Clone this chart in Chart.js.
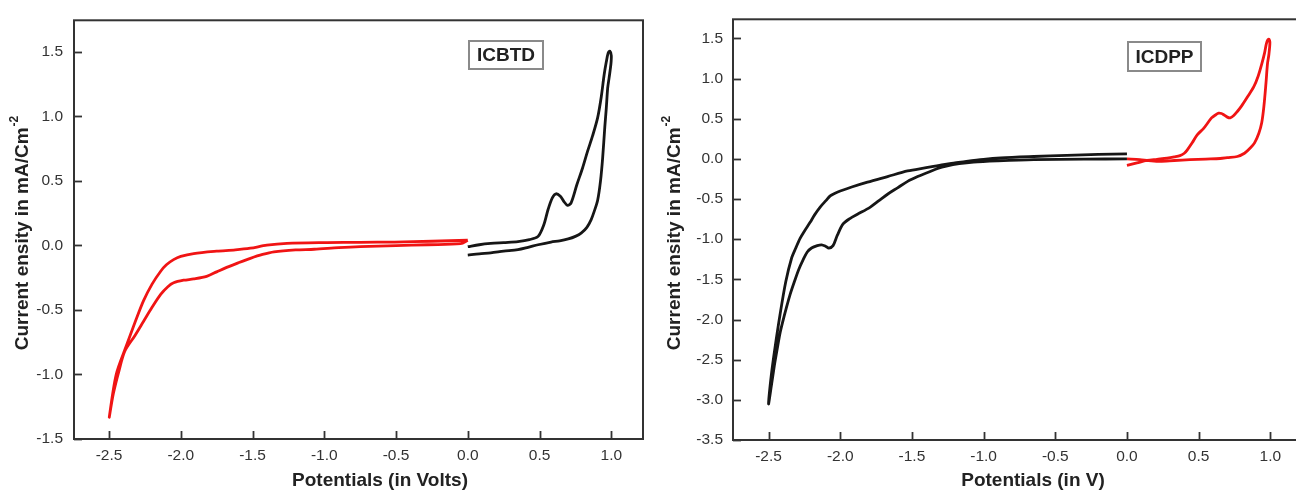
<!DOCTYPE html>
<html><head><meta charset="utf-8">
<script src="https://cdn.jsdelivr.net/npm/chart.js@4.4.0/dist/chart.umd.min.js"></script>
<style>
html,body{margin:0;padding:0;background:#fff;overflow:hidden;width:1296px;height:492px;}
#c1{position:absolute;left:0;top:0;}
#c2{position:absolute;left:648px;top:0;}
</style></head><body>
<canvas id="c1" width="648" height="492"></canvas>
<canvas id="c2" width="660" height="492"></canvas>
<script>
// ---- tick labels ----
const xTickValues = [-2.5, -2.0, -1.5, -1.0, -0.5, 0.0, 0.5, 1.0];
const yTicksICBTD = [-1.5, -1.0, -0.5, 0.0, 0.5, 1.0, 1.5];
const yTicksICDPP = [-3.5, -3.0, -2.5, -2.0, -1.5, -1.0, -0.5, 0.0, 0.5, 1.0, 1.5];

// ---- ICBTD (left panel) ----
const icbtdRedV = [0.0, -0.25, -0.51, -0.75, -0.98, -1.26, -1.40, -1.515, -1.62, -1.75, -1.91, -2.0, -2.05, -2.10, -2.14, -2.2, -2.26, -2.32, -2.38, -2.45, -2.498,
  -2.47, -2.43, -2.39, -2.32, -2.26, -2.2, -2.14, -2.09, -2.05, -1.98, -1.91, -1.82, -1.75, -1.68, -1.6, -1.515, -1.43, -1.35, -1.2, -1.07, -0.9, -0.75, -0.5, -0.28, -0.05, 0.0];
const icbtdRedI = [0.04, 0.032, 0.026, 0.024, 0.022, 0.016, 0.002, -0.022, -0.035, -0.045, -0.063, -0.085, -0.11, -0.15, -0.2, -0.3, -0.43, -0.6, -0.78, -1.0, -1.33,
  -1.15, -0.97, -0.82, -0.70, -0.59, -0.48, -0.38, -0.32, -0.29, -0.27, -0.26, -0.24, -0.205, -0.17, -0.135, -0.10, -0.07, -0.05, -0.035, -0.03, -0.018, -0.01, -0.002, 0.005, 0.013, 0.04];

const icbtdBlackV = [0.0, 0.08, 0.16, 0.25, 0.35, 0.43, 0.49, 0.53, 0.56, 0.59, 0.615, 0.645, 0.67, 0.695, 0.72, 0.76, 0.8, 0.835, 0.87, 0.905, 0.93, 0.95, 0.965, 0.978, 0.99, 1.0,
  0.997, 0.985, 0.975, 0.965, 0.955, 0.94, 0.925, 0.905, 0.88, 0.86, 0.83, 0.79, 0.75, 0.70, 0.64, 0.58, 0.49, 0.42, 0.35, 0.25, 0.16, 0.08, 0.0];
const icbtdBlackI = [-0.01, 0.005, 0.015, 0.022, 0.03, 0.045, 0.07, 0.16, 0.28, 0.37, 0.40, 0.38, 0.34, 0.31, 0.33, 0.47, 0.6, 0.73, 0.85, 0.99, 1.15, 1.32, 1.42, 1.49, 1.505, 1.47,
  1.40, 1.30, 1.22, 1.06, 0.92, 0.68, 0.50, 0.35, 0.26, 0.20, 0.14, 0.095, 0.07, 0.05, 0.035, 0.026, 0.005, -0.015, -0.033, -0.045, -0.058, -0.065, -0.075];

// ---- ICDPP (right panel) ----
const icdppBlackV = [0.0, -0.2, -0.42, -0.65, -0.88, -1.0, -1.12, -1.2, -1.28, -1.4, -1.53, -1.67, -1.81, -1.92, -2.0, -2.04, -2.07, -2.1, -2.14, -2.18, -2.21, -2.25, -2.28, -2.31, -2.34, -2.38, -2.42, -2.455, -2.48, -2.50,
  -2.48, -2.46, -2.44, -2.42, -2.40, -2.375, -2.35, -2.32, -2.29, -2.26, -2.23, -2.2, -2.16, -2.13, -2.1, -2.08, -2.05, -2.02, -1.98, -1.93, -1.88, -1.79, -1.73, -1.67, -1.6, -1.53, -1.46, -1.39, -1.32, -1.26, -1.17, -1.07, -0.9, -0.65, -0.3, 0.0];
const icdppBlackI = [0.062, 0.055, 0.045, 0.03, 0.012, -0.005, -0.03, -0.05, -0.07, -0.11, -0.15, -0.22, -0.29, -0.35, -0.40, -0.43, -0.46, -0.52, -0.60, -0.70, -0.79, -0.90, -0.99, -1.11, -1.24, -1.53, -1.94, -2.35, -2.68, -3.05,
  -2.82, -2.58, -2.37, -2.17, -2.02, -1.85, -1.69, -1.53, -1.38, -1.26, -1.16, -1.11, -1.08, -1.07, -1.09, -1.11, -1.08, -0.95, -0.81, -0.74, -0.69, -0.60, -0.52, -0.44, -0.36, -0.28, -0.22, -0.17, -0.12, -0.09, -0.06, -0.04, -0.025, -0.01, -0.003, 0.0];

const icdppRedV = [0.0, 0.07, 0.14, 0.21, 0.28, 0.33, 0.37, 0.40, 0.42, 0.455, 0.49, 0.535, 0.59, 0.62, 0.64, 0.66, 0.675, 0.70, 0.72, 0.745, 0.77, 0.80, 0.84, 0.885, 0.915, 0.94, 0.96, 0.975, 0.99, 0.997,
  0.99, 0.98, 0.97, 0.955, 0.94, 0.92, 0.89, 0.86, 0.82, 0.77, 0.70, 0.65, 0.55, 0.44, 0.33, 0.23, 0.15, 0.09, 0.0];
const icdppRedI = [-0.08, -0.05, -0.02, -0.005, 0.01, 0.025, 0.04, 0.07, 0.11, 0.20, 0.30, 0.38, 0.51, 0.55, 0.57, 0.565, 0.55, 0.52, 0.51, 0.54, 0.59, 0.66, 0.77, 0.90, 1.03, 1.18, 1.32, 1.45, 1.49, 1.45,
  1.30, 1.18, 0.95, 0.65, 0.45, 0.32, 0.2, 0.135, 0.07, 0.03, 0.015, 0.005, -0.002, -0.01, -0.02, -0.03, -0.02, -0.01, 0.0];

const FONT = '"Liberation Sans", Arial, sans-serif';
const pts = (vs, is) => vs.map((v, k) => ({x: v, y: is[k]}));

const framePlugin = {
  id: 'frame',
  afterDraw(chart, args, o) {
    const {ctx, chartArea: a, scales: {x, y}} = chart;
    ctx.save();
    ctx.strokeStyle = '#333';
    ctx.lineWidth = 2;
    ctx.strokeRect(a.left, a.top, a.right - a.left, a.bottom - a.top);
    ctx.lineWidth = 1.8;
    x.ticks.forEach(t => {
      const px = Math.round(x.getPixelForValue(t.value)) + 0.5;
      ctx.beginPath(); ctx.moveTo(px, a.bottom); ctx.lineTo(px, a.bottom - 8); ctx.stroke();
    });
    y.ticks.forEach(t => {
      const py = Math.round(y.getPixelForValue(t.value)) + 0.5;
      ctx.beginPath(); ctx.moveTo(a.left, py); ctx.lineTo(a.left + 8, py); ctx.stroke();
    });
    // x title
    ctx.fillStyle = '#222';
    ctx.font = 'bold 19px ' + FONT;
    ctx.textAlign = 'center';
    ctx.textBaseline = 'middle';
    ctx.fillText(o.xTitle, o.xTitleX, o.xTitleY);
    // y title with superscript
    ctx.save();
    ctx.translate(o.yTitleX, o.yTitleY);
    ctx.rotate(-Math.PI / 2);
    ctx.textAlign = 'left';
    ctx.textBaseline = 'alphabetic';
    ctx.font = 'bold 19px ' + FONT;
    const wm = ctx.measureText(o.yTitle).width;
    ctx.font = 'bold 12px ' + FONT;
    const ws = ctx.measureText(o.yTitleSup).width;
    const start = -(wm + ws + 1) / 2;
    ctx.font = 'bold 19px ' + FONT;
    ctx.fillText(o.yTitle, start, 7);
    ctx.font = 'bold 12px ' + FONT;
    ctx.fillText(o.yTitleSup, start + wm + 1, -3);
    ctx.restore();
    // label box
    const b = o.box;
    ctx.fillStyle = '#fff';
    ctx.fillRect(b.x, b.y, b.w, b.h);
    ctx.strokeStyle = '#8a8a8a';
    ctx.lineWidth = 2;
    ctx.strokeRect(b.x, b.y, b.w, b.h);
    ctx.fillStyle = '#222';
    ctx.font = 'bold 19px ' + FONT;
    ctx.textAlign = 'center';
    ctx.textBaseline = 'middle';
    ctx.fillText(b.text, b.x + b.w / 2, b.y + b.h / 2 + 1);
    ctx.restore();
  }
};

function makeChart(id, cfg) {
  return new Chart(document.getElementById(id), {
    type: 'scatter',
    data: {datasets: cfg.datasets.map(d => ({
      data: d.data, showLine: true, borderColor: d.color, backgroundColor: d.color,
      borderWidth: 2.8, pointRadius: 0, tension: 0.3, fill: false
    }))},
    options: {
      responsive: false, animation: false, devicePixelRatio: 1,
      layout: {padding: {top: cfg.top, right: cfg.right, left: 0, bottom: 0}},
      plugins: {legend: {display: false}, tooltip: {enabled: false}, frame: cfg.frame},
      scales: {
        x: {
          type: 'linear', min: cfg.xMin, max: cfg.xMax,
          grid: {display: false, drawTicks: false}, border: {display: false},
          ticks: {padding: 7, color: '#333', autoSkip: false, maxRotation: 0,
                  font: {family: FONT, size: 15.5}, callback: v => Number(v).toFixed(1)},
          afterBuildTicks: s => { s.ticks = xTickValues.map(v => ({value: v})); },
          afterFit: s => { s.height = cfg.xH; }
        },
        y: {
          type: 'linear', min: cfg.yMin, max: cfg.yMax,
          grid: {display: false, drawTicks: false}, border: {display: false},
          ticks: {padding: cfg.yPad, color: '#333', autoSkip: false,
                  font: {family: FONT, size: 15.5}, callback: v => Number(v).toFixed(1)},
          afterBuildTicks: s => { s.ticks = cfg.yTicks.map(v => ({value: v})); },
          afterFit: s => { s.width = cfg.yW; }
        }
      }
    },
    plugins: [framePlugin]
  });
}

makeChart('c1', {
  datasets: [
    {data: pts(icbtdRedV, icbtdRedI), color: '#f01414'},
    {data: pts(icbtdBlackV, icbtdBlackI), color: '#161616'}
  ],
  top: 14, right: 5, xH: 53, yW: 74, yPad: 11,
  xMin: -2.744, xMax: 1.221, yMin: -1.5, yMax: 1.744, yTicks: yTicksICBTD,
  frame: {xTitle: 'Potentials (in Volts)', xTitleX: 380, xTitleY: 481,
          yTitle: 'Current ensity in mA/Cm', yTitleSup: '-2', yTitleX: 21, yTitleY: 233,
          box: {x: 469, y: 41, w: 74, h: 28, text: 'ICBTD'}}
});

makeChart('c2', {
  datasets: [
    {data: pts(icdppBlackV, icdppBlackI), color: '#161616'},
    {data: pts(icdppRedV, icdppRedI), color: '#f01414'}
  ],
  top: 15, right: 6, xH: 52, yW: 85, yPad: 10,
  xMin: -2.748, xMax: 1.221, yMin: -3.5, yMax: 1.738, yTicks: yTicksICDPP,
  frame: {xTitle: 'Potentials (in V)', xTitleX: 385, xTitleY: 481,
          yTitle: 'Current ensity in mA/Cm', yTitleSup: '-2', yTitleX: 25, yTitleY: 233,
          box: {x: 480, y: 42, w: 73, h: 29, text: 'ICDPP'}}
});
</script>
</body></html>
